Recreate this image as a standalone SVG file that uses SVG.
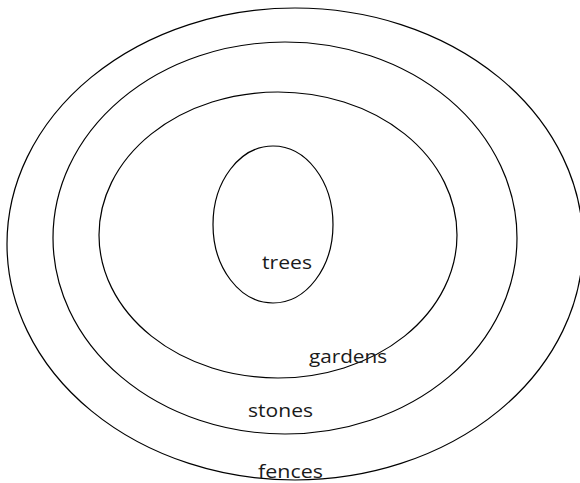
<svg xmlns="http://www.w3.org/2000/svg" width="580" height="483" viewBox="0 0 580 483">
<style>
.ring{fill:none;stroke:#000;stroke-width:1.2}
.lbl{font-family:"Open Sans","Noto Sans",sans-serif;font-size:19px;fill:#1a1a1a}
</style>
<rect width="580" height="483" fill="#fff"/>
<g id="fences-ring"><ellipse class="ring" cx="295" cy="244" rx="288" ry="236"/></g>
<g id="stones-ring"><ellipse class="ring" cx="285" cy="238" rx="232" ry="196"/></g>
<g id="gardens-ring"><ellipse class="ring" cx="278" cy="235" rx="179" ry="143"/></g>
<g id="trees-ring"><ellipse class="ring" cx="273" cy="224.5" rx="60" ry="78.5"/></g>
<g id="connectors"></g>
<g id="labels">
<text class="lbl" x="262" y="269" textLength="50" lengthAdjust="spacingAndGlyphs">trees</text>
<text class="lbl" x="309" y="363" textLength="78" lengthAdjust="spacingAndGlyphs">gardens</text>
<text class="lbl" x="248" y="417" textLength="65" lengthAdjust="spacingAndGlyphs">stones</text>
<text class="lbl" x="258" y="478" textLength="65" lengthAdjust="spacingAndGlyphs">fences</text>
</g>
</svg>
